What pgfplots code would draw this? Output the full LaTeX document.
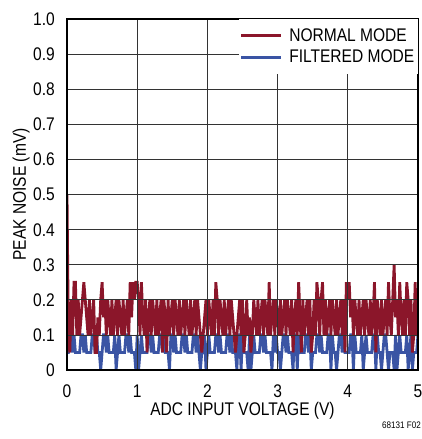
\documentclass[border=0pt]{standalone}
\usepackage{pgfplots}
\usepackage{pgfplotstable}
\pgfplotsset{compat=1.18}
\usepackage{fontspec}
\setmainfont{Liberation Sans}[FakeStretch=0.85]
\definecolor{nred}{RGB}{139,22,42}
\definecolor{fblue}{RGB}{58,84,164}
\pgfplotstableread{
x r b
0.00 0.5 0.05
0.02 0.1 0.05
0.04 0.05 0.1
0.06 0.2 0.1
0.08 0.1 0.05
0.10 0.25 0.1
0.12 0.25 0.05
0.14 0.1 0.05
0.16 0.2 0.05
0.18 0.1 0.05
0.20 0.15 0.1
0.22 0.2 0.1
0.24 0.25 0.05
0.26 0.2 0.1
0.28 0.15 0.05
0.30 0.1 0.05
0.32 0.2 0.05
0.34 0.1 0.05
0.36 0.15 0.1
0.38 0.2 0.1
0.40 0.05 0.05
0.42 0.05 0.1
0.44 0.15 0.05
0.46 0.1 0.05
0.48 0.2 0
0.50 0.25 0.05
0.52 0.15 0.1
0.54 0.2 0.1
0.56 0.1 0.05
0.58 0.2 0.1
0.60 0.15 0.05
0.62 0.1 0.05
0.64 0.2 0.05
0.66 0.1 0.05
0.68 0.15 0.1
0.70 0.2 0
0.72 0.1 0.05
0.74 0.2 0.1
0.76 0.15 0.05
0.78 0.1 0.05
0.80 0.2 0.05
0.82 0.1 0.05
0.84 0.15 0.1
0.86 0.2 0.1
0.88 0.1 0.05
0.90 0.25 0.1
0.92 0.15 0.05
0.94 0.25 0.05
0.96 0.2 0.05
0.98 0.25 0
1.00 0.25 0.1
1.02 0.2 0
1.04 0.1 0.05
1.06 0.25 0.1
1.08 0.15 0.05
1.10 0.1 0.05
1.12 0.2 0.05
1.14 0.05 0.05
1.16 0.15 0.1
1.18 0.2 0.1
1.20 0.1 0.05
1.22 0.2 0.1
1.24 0.15 0.05
1.26 0.1 0.05
1.28 0.2 0.05
1.30 0.1 0.05
1.32 0.15 0.1
1.34 0.2 0.1
1.36 0.05 0.05
1.38 0.2 0.1
1.40 0.15 0.05
1.42 0.05 0.05
1.44 0.2 0.05
1.46 0.1 0
1.48 0.15 0.1
1.50 0.2 0.1
1.52 0.1 0.05
1.54 0.2 0.1
1.56 0.15 0.05
1.58 0.1 0.05
1.60 0.2 0.05
1.62 0.1 0.05
1.64 0.15 0.1
1.66 0.2 0.1
1.68 0.1 0.05
1.70 0.2 0.1
1.72 0.15 0.05
1.74 0.1 0.05
1.76 0.2 0.05
1.78 0.1 0.05
1.80 0.15 0.1
1.82 0.2 0.1
1.84 0.1 0.05
1.86 0.2 0.1
1.88 0.15 0.05
1.90 0.1 0
1.92 0.05 0.05
1.94 0.1 0.05
1.96 0.15 0.1
1.98 0.2 0
2.00 0.1 0.05
2.02 0.2 0.1
2.04 0.15 0.05
2.06 0.1 0.05
2.08 0.2 0.05
2.10 0.1 0.05
2.12 0.25 0.1
2.14 0.2 0.1
2.16 0.1 0.05
2.18 0.2 0.1
2.20 0.15 0.05
2.22 0.1 0.05
2.24 0.2 0.05
2.26 0.1 0.05
2.28 0.15 0.1
2.30 0.2 0.1
2.32 0.1 0.05
2.34 0.2 0.1
2.36 0.15 0.05
2.38 0.1 0.05
2.40 0.05 0.05
2.42 0.1 0
2.44 0.15 0.1
2.46 0.2 0.1
2.48 0.1 0
2.50 0.2 0.1
2.52 0.05 0.05
2.54 0.1 0.05
2.56 0.2 0.05
2.58 0.1 0
2.60 0.15 0.1
2.62 0.05 0
2.64 0.1 0.05
2.66 0.2 0.1
2.68 0.15 0.05
2.70 0.1 0.05
2.72 0.2 0.05
2.74 0.1 0.05
2.76 0.15 0.1
2.78 0.2 0.1
2.80 0.1 0.05
2.82 0.2 0.1
2.84 0.15 0.05
2.86 0.1 0.05
2.88 0.25 0.05
2.90 0.1 0.05
2.92 0.15 0
2.94 0.2 0.1
2.96 0.1 0.05
2.98 0.2 0.1
3.00 0.15 0.05
3.02 0.1 0.05
3.04 0.2 0
3.06 0.1 0.05
3.08 0.15 0.1
3.10 0.2 0.1
3.12 0.1 0.05
3.14 0.2 0.1
3.16 0.15 0.05
3.18 0.1 0.05
3.20 0.2 0.05
3.22 0.05 0
3.24 0.15 0.1
3.26 0.2 0.1
3.28 0.1 0
3.30 0.25 0.1
3.32 0.15 0.05
3.34 0.05 0.05
3.36 0.2 0.05
3.38 0.1 0.05
3.40 0.15 0.1
3.42 0.2 0.1
3.44 0.1 0.05
3.46 0.2 0.1
3.48 0.05 0
3.50 0.1 0.05
3.52 0.2 0.05
3.54 0.1 0.05
3.56 0.25 0.1
3.58 0.2 0.1
3.60 0.1 0.05
3.62 0.2 0.1
3.64 0.25 0.05
3.66 0.1 0.05
3.68 0.2 0.05
3.70 0.1 0.05
3.72 0.15 0.1
3.74 0.2 0.1
3.76 0.1 0
3.78 0.2 0.1
3.80 0.15 0.05
3.82 0.1 0.05
3.84 0.2 0
3.86 0.1 0.05
3.88 0.15 0.1
3.90 0.2 0.1
3.92 0.1 0.05
3.94 0.2 0.1
3.96 0.05 0.05
3.98 0.25 0.05
4.00 0.2 0.05
4.02 0.25 0.05
4.04 0.15 0.1
4.06 0.2 0.1
4.08 0.1 0
4.10 0.2 0.1
4.12 0.15 0.05
4.14 0.1 0.05
4.16 0.2 0.05
4.18 0.1 0.05
4.20 0.15 0.1
4.22 0.2 0
4.24 0.1 0.05
4.26 0.2 0.1
4.28 0.15 0.05
4.30 0.1 0.05
4.32 0.2 0.05
4.34 0.1 0.05
4.36 0.15 0.1
4.38 0.25 0.1
4.40 0.05 0
4.42 0.2 0.1
4.44 0.15 0.05
4.46 0.1 0.05
4.48 0.2 0
4.50 0.1 0.05
4.52 0.15 0.1
4.54 0.2 0.1
4.56 0.1 0.05
4.58 0.25 0
4.60 0.15 0.05
4.62 0.1 0.05
4.64 0.2 0.05
4.66 0.3 0
4.68 0.15 0.1
4.70 0.2 0
4.72 0.1 0.05
4.74 0.25 0.1
4.76 0.15 0.05
4.78 0.1 0.05
4.80 0.2 0.05
4.82 0.1 0.05
4.84 0.25 0.1
4.86 0.2 0
4.88 0.1 0.05
4.90 0.2 0.1
4.92 0.05 0
4.94 0.1 0.05
4.96 0.25 0.05
4.98 0.1 0.05
5.00 0.15 0.1
}\noise
\begin{document}
\begin{tikzpicture}
\useasboundingbox (-67pt,-69pt) rectangle (355pt,370pt);
\begin{axis}[
  at={(0,0)}, anchor=origin,
  scale only axis, width=351pt, height=351pt,
  xmin=0, xmax=5, ymin=0, ymax=1,
  xtick={0,1,2,3,4,5},
  ytick={0,0.1,0.2,0.3,0.4,0.5,0.6,0.7,0.8,0.9,1.0},
  yticklabels={0,0.1,0.2,0.3,0.4,0.5,0.6,0.7,0.8,0.9,1.0},
  xticklabels={0,1,2,3,4,5},
  /pgf/number format/assume math mode=true,
  tick style={draw=none},
  xticklabel style={font=\fontsize{18.3}{19}\selectfont, anchor=base, inner sep=0pt, yshift=-27pt},
  yticklabel style={font=\fontsize{18.3}{19}\selectfont, anchor=base east, inner sep=0pt, xshift=-12pt, yshift=-6.5pt},
  grid=major,
  major grid style={draw=black!80, line width=0.7pt},
  axis line style={line width=1.5pt},
  axis on top=true,
  xlabel={ADC INPUT VOLTAGE (V)},
  ylabel={PEAK NOISE (mV)},
  every axis x label/.style={at={(axis description cs:0.5,0)}, anchor=base, inner sep=0pt, yshift=-45pt, font=\fontsize{18.3}{19}\selectfont},
  every axis y label/.style={at={(axis description cs:-0.131,0.5)}, anchor=center, rotate=90, inner sep=0pt, font=\fontsize{18.3}{19}\selectfont},
  legend style={at={(1,1)}, anchor=north east, draw=none, fill=white,
    font=\fontsize{18.3}{19}\selectfont, inner xsep=2pt, inner ysep=8pt,
    row sep=4pt, column sep=7pt, nodes={inner sep=1.5pt}},
  legend cell align=left,
  legend image code/.code={\fill[#1] (0pt,-1.4pt) rectangle (40pt,1.4pt);},
]
\addplot[fblue, line width=2.8pt, forget plot] table[x=x, y=b] {\noise};
\addplot[nred, line width=2.8pt, forget plot] table[x=x, y=r] {\noise};
\addlegendimage{fill=nred, draw=none}
\addlegendentry{NORMAL MODE}
\addlegendimage{fill=fblue, draw=none}
\addlegendentry{FILTERED MODE}
\end{axis}
\node[anchor=base east, inner sep=0pt, font=\fontsize{9.5}{10}\selectfont] at (354pt,-58pt) {68131 F02};
\end{tikzpicture}
\end{document}
